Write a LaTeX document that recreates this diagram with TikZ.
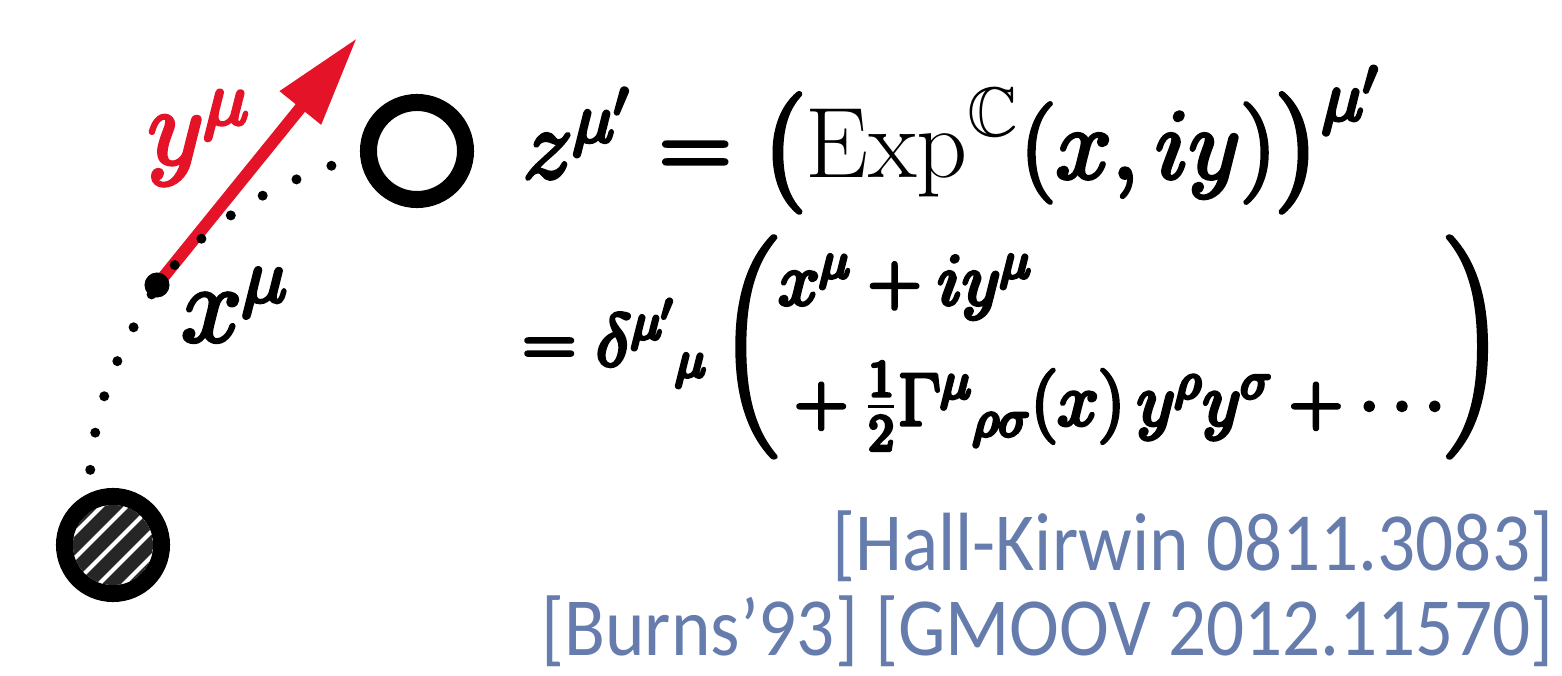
\RequirePackage{fix-cm}
\documentclass[tikz,border=0pt]{standalone}
\usepackage{amsmath,amssymb}
\usepackage{fontspec}
\newfontfamily\citefont[FakeStretch=0.91]{Carlito}
\usetikzlibrary{arrows.meta, positioning}
\definecolor{arrowred}{RGB}{228, 19, 40}
\definecolor{citeblue}{RGB}{101, 124, 173}
\definecolor{hatchgray}{RGB}{38, 38, 38}
% heavier glyphs: fill and stroke the outlines
\newcommand{\strokeon}{\special{pdf:literal direct 2 Tr 1.1 w 1 j}}
\newcommand{\strokeoff}{\special{pdf:literal direct 0 Tr 0.4 w 0 j}}
\newcommand{\heavy}[1]{\strokeon#1\strokeoff}

\begin{document}
\begin{tikzpicture}[x=0.01cm, y=0.01cm,
  ring/.style={circle, draw, line width=0.17cm, minimum size=0.97cm, inner sep=0pt},
  endpt/.style={circle, fill, minimum size=0.25cm, inner sep=0pt},
  geodesic/.style={line width=0.1cm, line cap=round, dash pattern=on 0pt off 0.375cm, dash phase=0.14cm},
  tangent/.style={-{Triangle[length=0.9cm, width=0.5cm]}, line width=0.12cm, arrowred},
  lab/.style={inner sep=0pt, font=\fontsize{31}{37}\selectfont},
  eqn/.style={inner sep=0pt, font=\fontsize{28.5}{34}\selectfont},
  eqnsmall/.style={inner sep=0pt, font=\fontsize{21}{25}\selectfont},
  cite/.style={anchor=base east, inner sep=0pt, text=citeblue, font=\citefont\fontsize{23.5}{28}\selectfont}
]
  \useasboundingbox (0,0) rectangle (1562,675);

  % tangent vector at the base point
  \coordinate (base) at (157,390);
  \coordinate (tip) at (357,637);
  \draw[tangent] (base) -- (tip);
  \node[endpt] (xpt) at (base) {};
  \node[lab] (xlab) at (235,370) {\heavy{$x^{\mu}$}};
  \node[lab, text=arrowred] (ylab) at (199,537) {\heavy{$y^{\mu}$}};

  % start and end points
  \node[ring] (src) at (113,130) {};
  \node[ring] (dst) at (417,524) {};
  \begin{scope}
    \clip (src.center) circle (0.4cm);
    \fill[hatchgray] (src.center) circle (0.4cm);
    \foreach \k in {-3,...,3}
      \draw[white, line width=0.04cm] ([xshift=\k*0.25cm]src.center) ++(-60,-60) -- ++(120,120);
  \end{scope}

  % geodesic
  \draw[geodesic] (src.115) to[out=88, in=240] (xpt.center) to[out=50, in=198] (dst.185);

  % formulas
  \node[eqn, anchor=base west] (zdef) at (522,497)
    {\heavy{$z^{\mu'} = \big(\strokeoff\textnormal{Exp}^{\mathbb{C}}\strokeon(x,iy)\big)^{\mu'}$}};
  \node[eqnsmall, anchor=west] (zser) at (522,328)
    {\heavy{$= \delta^{\mu'}{}_{\mu} \left(\begin{array}{@{}l@{}}
        x^{\mu} + iy^{\mu} \\[9pt]
        {}+ \frac{1}{2}\Gamma^{\mu}{}_{\rho\sigma}(x)\, y^{\rho} y^{\sigma} + \cdots
      \end{array}\right)$}};

  % references
  \node[cite] (cite1) at (1554,105) {[Hall-Kirwin 0811.3083]};
  \node[cite] (cite2) at (1554,20) {[Burns’93] [GMOOV 2012.11570]};
\end{tikzpicture}
\end{document}
